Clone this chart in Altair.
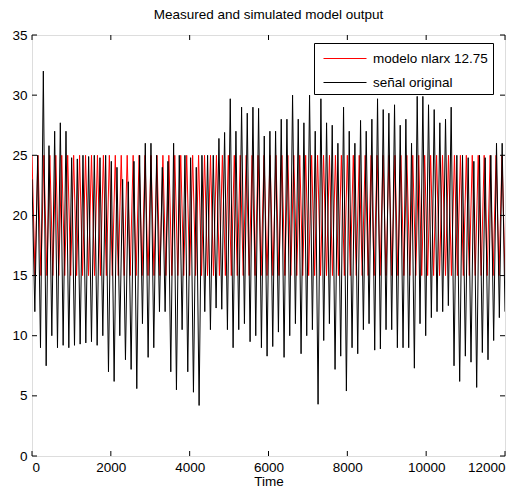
import altair as alt
import numpy as np
import pandas as pd

# ---- data ----
black_peaks = [
    23, 25, 32, 25.8, 27, 27.7, 27,
    24.8, 24.7, 25, 24.9, 25, 24.8, 25,
    24.5, 24, 23, 22.8, 24.5, 25, 26,
    26, 25, 24, 24.5, 26, 25, 25,
    24.8, 24, 25, 25, 25, 26.4, 26.9,
    29.7, 27, 29, 28.5, 29, 28.9, 26.6,
    27, 27, 28, 28, 30, 28, 27.7,
    30, 27, 29.7, 27.7, 27.5, 26, 29,
    27, 26, 27.9, 27, 28, 29.7, 28.8,
    28.5, 29.2, 27.5, 28, 26, 29.9, 29.9,
    29.2, 28.8, 27.7, 28, 29, 25, 25,
    24.8, 24.5, 25, 24.8, 25, 26, 26,
]
black_troughs = [
    12, 9, 7.5, 10, 9, 9.2, 9,
    9.2, 9.3, 9.4, 9.5, 9.2, 10, 7,
    6.2, 10, 8, 7.2, 5.6, 11, 8.2,
    9, 12, 12, 7, 5.5, 10.5, 7,
    5.3, 4.2, 12, 10.5, 12.3, 12.2, 10.5,
    9, 10.5, 11, 9.5, 10, 9, 8.3,
    9.1, 10.3, 8.2, 10, 11, 8.5, 10,
    10.5, 4.3, 9.6, 11, 7.2, 8.3, 5.4,
    9, 8.5, 10.5, 11, 8.8, 8.9, 10.5,
    10.5, 9, 9, 9, 7.3, 11, 10,
    11.5, 12, 12, 12.5, 7.5, 6.2, 8.3,
    7.8, 5.7, 8.6, 8, 9.6, 11.5, 12,
]
red_peaks = [
    25, 25, 25, 25, 25, 25, 25, 25, 25, 25,
    25, 25, 25, 25, 25, 25, 25, 25, 25, 25,
    25, 25, 25, 25, 25, 25, 25, 25, 25, 25,
    25, 25, 25, 25, 25, 25, 25, 25, 25, 25,
    25, 25, 25, 25, 25, 25, 25, 25, 25, 25,
    25, 25, 25, 25, 25, 25, 25, 25, 25, 25,
    25, 25, 25, 25, 25, 25, 25, 25, 25, 25,
    25, 25, 25, 25, 25, 25, 25, 25, 25, 25,
]
red_troughs = [
    15, 15, 15, 15, 15, 15, 15, 15, 15, 15,
    15, 15, 15, 15, 15, 15, 15, 15, 15, 15,
    15, 15, 15, 15, 15, 15, 15, 15, 15, 15,
    15, 15, 15, 15, 15, 15, 15, 15, 15, 15,
    15, 15, 15, 15, 15, 15, 15, 15, 15, 15,
    15, 15, 15, 15, 15, 15, 15, 15, 15, 15,
    15, 15, 15, 15, 15, 15, 15, 15, 15, 15,
    15, 15, 15, 15, 15, 15, 15, 15, 15, 15,
]
x_ticks = [0, 2000, 4000, 6000, 8000, 10000, 12000]
y_ticks = [0, 5, 10, 15, 20, 25, 30, 35]
series_names = ["modelo nlarx 12.75", "señal original"]
series_colors = ["#ff0000", "#000000"]
t_end = 12000


def interleave(peaks, troughs, name):
    vals = []
    for p, q in zip(peaks, troughs):
        vals += [p, q]
    t = np.linspace(0, t_end, len(vals))
    return pd.DataFrame({"t": t, "v": vals, "s": name})


red_df = interleave(red_peaks, red_troughs, series_names[0])
black_df = interleave(black_peaks, black_troughs, series_names[1])

W, H = 473, 421
FONT = "Liberation Sans"
FS = 13.5

xscale = alt.Scale(domain=[0, 12000], nice=False, zero=False)
yscale = alt.Scale(domain=[0, 35], nice=False)
cscale = alt.Scale(domain=series_names, range=series_colors)

legend = alt.Legend(
    title=None, orient="none", legendX=282, legendY=8,
    symbolType="M-0.6,0H3.7", symbolSize=400, symbolStrokeWidth=1,
    labelFont=FONT, labelFontSize=FS, labelColor="black",
    fillColor="white", strokeColor="black", padding=5,
    rowPadding=7, labelOffset=33, labelLimit=300,
)

xaxis = alt.Axis(values=x_ticks, format="d", title="Time", domain=False, ticks=False,
                 tickSize=0, grid=False, labelFont=FONT, labelFontSize=FS,
                 labelColor="black", labelPadding=4, titleFont=FONT,
                 titleFontSize=FS, titleFontWeight="normal", titleColor="black",
                 titlePadding=1)
yaxis = alt.Axis(values=y_ticks, title=None, domain=False, ticks=False, tickSize=0,
                 grid=False, labelFont=FONT, labelFontSize=FS, labelColor="black",
                 labelPadding=5)

red = alt.Chart(red_df).mark_line(strokeWidth=1, clip=True).encode(
    x=alt.X("t:Q", scale=xscale, axis=xaxis),
    y=alt.Y("v:Q", scale=yscale, axis=yaxis),
    color=alt.Color("s:N", scale=cscale, legend=legend),
)
black = alt.Chart(black_df).mark_line(strokeWidth=1, clip=True).encode(
    x=alt.X("t:Q", scale=xscale),
    y=alt.Y("v:Q", scale=yscale),
    color=alt.Color("s:N", scale=cscale, legend=legend),
)

xt = pd.DataFrame({"x": x_ticks})
yt = pd.DataFrame({"y": y_ticks})
tick_bottom = alt.Chart(xt).mark_rule(color="black", strokeWidth=1).encode(
    x=alt.X("x:Q", scale=xscale), y=alt.value(H), y2=alt.value(H - 5))
tick_top = alt.Chart(xt).mark_rule(color="black", strokeWidth=1).encode(
    x=alt.X("x:Q", scale=xscale), y=alt.value(0), y2=alt.value(5))
tick_left = alt.Chart(yt).mark_rule(color="black", strokeWidth=1).encode(
    y=alt.Y("y:Q", scale=yscale), x=alt.value(0), x2=alt.value(5))
tick_right = alt.Chart(yt).mark_rule(color="black", strokeWidth=1).encode(
    y=alt.Y("y:Q", scale=yscale), x=alt.value(W), x2=alt.value(W - 5))

chart = alt.layer(red, black, tick_bottom, tick_top, tick_left, tick_right).properties(
    width=W, height=H,
    title=alt.TitleParams("Measured and simulated model output", font=FONT,
                          fontSize=FS, fontWeight="normal", color="black",
                          anchor="middle", offset=7),
    autosize=alt.AutoSizeParams(type="none"),
    padding={"left": 24, "top": 27, "right": 12, "bottom": 32},
).configure_view(stroke="black", strokeWidth=1).configure(background="white")

chart.save("out.html", embed_options={"renderer": "svg", "actions": False})
